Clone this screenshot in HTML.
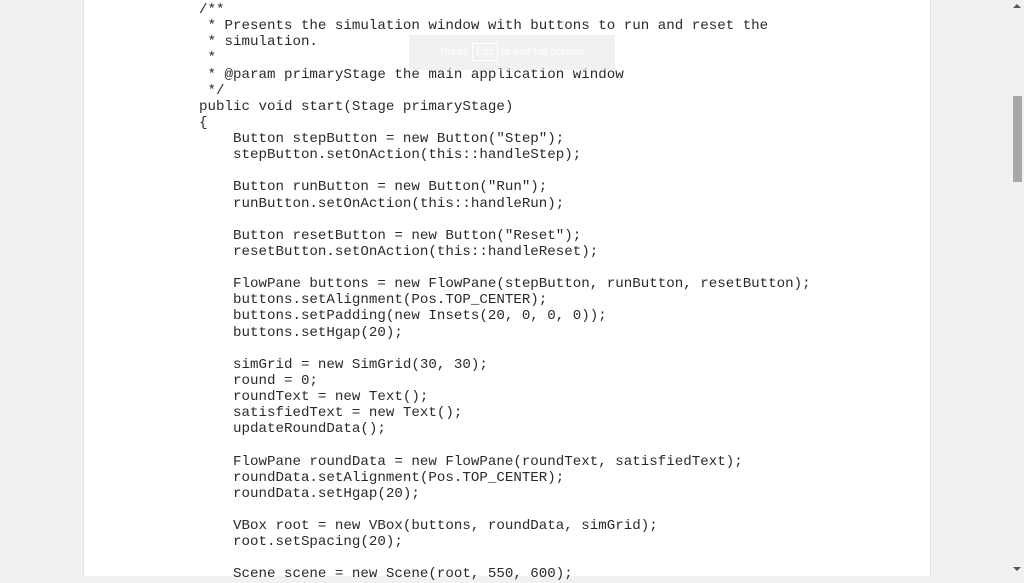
<!DOCTYPE html>
<html><head><style>
html,body{margin:0;padding:0;width:1024px;height:576px;overflow:hidden;background:#f1f1f1;}
.page{position:absolute;left:83px;top:0;width:846px;height:576px;background:#fff;border-left:1px solid #e2e2e2;border-right:1px solid #e2e2e2;}
pre{position:absolute;left:199px;top:2px;margin:0;font-family:"Liberation Mono",monospace;font-size:14.16px;line-height:16.12px;color:#2a2a2a;}
.ov{position:absolute;left:409px;top:35px;width:206px;height:35px;background:rgba(230,230,230,0.55);font-family:"Liberation Sans",sans-serif;font-size:11px;color:#fff;text-align:center;line-height:35px;}
.ov span{border:1px solid #fff;padding:2px 3px;}
.sb{position:absolute;left:1010px;top:0;width:14px;height:576px;background:#f1f1f1;}
.th{position:absolute;left:1013px;top:96px;width:9px;height:86px;background:#a8a8a8;}
</style></head><body>
<div class="page"></div>
<pre>/**
 * Presents the simulation window with buttons to run and reset the
 * simulation.
 *
 * @param primaryStage the main application window
 */
public void start(Stage primaryStage)
{
    Button stepButton = new Button("Step");
    stepButton.setOnAction(this::handleStep);

    Button runButton = new Button("Run");
    runButton.setOnAction(this::handleRun);

    Button resetButton = new Button("Reset");
    resetButton.setOnAction(this::handleReset);

    FlowPane buttons = new FlowPane(stepButton, runButton, resetButton);
    buttons.setAlignment(Pos.TOP_CENTER);
    buttons.setPadding(new Insets(20, 0, 0, 0));
    buttons.setHgap(20);

    simGrid = new SimGrid(30, 30);
    round = 0;
    roundText = new Text();
    satisfiedText = new Text();
    updateRoundData();

    FlowPane roundData = new FlowPane(roundText, satisfiedText);
    roundData.setAlignment(Pos.TOP_CENTER);
    roundData.setHgap(20);

    VBox root = new VBox(buttons, roundData, simGrid);
    root.setSpacing(20);

    Scene scene = new Scene(root, 550, 600);</pre>
<div class="ov">Press <span>Esc</span> to exit full screen</div>
<div class="sb"></div>
<div class="th"></div>
<div style="position:absolute;left:1013px;top:4px;width:0;height:0;border-left:4px solid transparent;border-right:4px solid transparent;border-bottom:4px solid #555;"></div>
<div style="position:absolute;left:1013px;top:567px;width:0;height:0;border-left:4px solid transparent;border-right:4px solid transparent;border-top:4px solid #555;"></div>
</body></html>
